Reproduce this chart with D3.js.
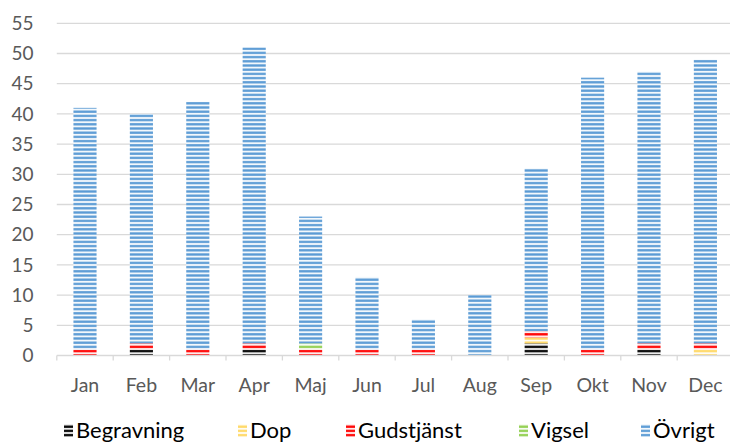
<!DOCTYPE html>
<html>
<head>
<meta charset="utf-8">
<script src="https://cdn.jsdelivr.net/npm/d3@7"></script>
<style>
  html, body { margin: 0; padding: 0; background: #fff; }
  svg { display: block; font-family: Lato, "Open Sans", sans-serif; }
</style>
</head>
<body>
<svg id="chart" width="730" height="443"></svg>
<script>
// Activities per month, stacked by type
const months = ["Jan", "Feb", "Mar", "Apr", "Maj", "Jun", "Jul", "Aug", "Sep", "Okt", "Nov", "Dec"];
const seriesNames = ["Begravning", "Dop", "Gudstjänst", "Vigsel", "Övrigt"];
const begravning = [0, 1, 0, 1, 0, 0, 0, 0, 2, 0, 1, 0];
const dop        = [0, 0, 0, 0, 0, 0, 0, 0, 1, 0, 0, 1];
const gudstjanst = [1, 1, 1, 1, 1, 1, 1, 0, 1, 1, 1, 1];
const vigsel     = [0, 0, 0, 0, 1, 0, 0, 0, 0, 0, 0, 0];
const ovrigt     = [40, 38, 41, 49, 21, 12, 5, 10, 27, 45, 45, 47];
const yTicks = [0, 5, 10, 15, 20, 25, 30, 35, 40, 45, 50, 55];

const seriesColors = ["#000000", "#ffd966", "#ff0000", "#92d050", "#5b9bd5"];
const seriesValues = [begravning, dop, gudstjanst, vigsel, ovrigt];

const rows = months.map((m, i) => {
  const r = { month: m };
  seriesNames.forEach((s, k) => { r[s] = seriesValues[k][i]; });
  return r;
});

const svg = d3.select("#chart");
const plotLeft = 56.8, plotRight = 733.6, plotTop = 23.3, plotBottom = 355.5;

const x = d3.scaleBand().domain(months).range([plotLeft, plotRight])
  .paddingInner(0.59).paddingOuter(0.295);
const y = d3.scaleLinear().domain([0, 55]).range([plotBottom, plotTop]);
const step = x.step();

// Striped fills, one pattern per series
const defs = svg.append("defs");
seriesNames.forEach((s, k) => {
  const p = defs.append("pattern")
    .attr("id", "pat" + k)
    .attr("patternUnits", "userSpaceOnUse")
    .attr("width", 8).attr("height", 4.2)
    .attr("y", 0.4);
  p.append("rect").attr("width", 8).attr("height", 4.2).attr("fill", "#fff");
  p.append("rect").attr("y", 0.6).attr("width", 8).attr("height", 3.0)
    .attr("fill", seriesColors[k]).attr("opacity", 0.25);
  p.append("rect").attr("y", 1.0).attr("width", 8).attr("height", 2.2)
    .attr("fill", seriesColors[k]);
});

// Horizontal gridlines
svg.append("g").selectAll("line").data(yTicks.filter(t => t > 0)).join("line")
  .attr("x1", plotLeft).attr("x2", 730)
  .attr("y1", d => y(d)).attr("y2", d => y(d))
  .attr("stroke", "#d9d9d9").attr("stroke-width", 1.3);

// Y axis labels
svg.append("g").selectAll("text").data(yTicks).join("text")
  .attr("x", 33.5).attr("y", d => y(d))
  .attr("dy", "0.35em")
  .attr("text-anchor", "end")
  .attr("fill", "#595959")
  .attr("font-size", 19)
  .text(d => d);

// Stacked bars
const stack = d3.stack().keys(seriesNames);
const layers = stack(rows);
svg.append("g").selectAll("g").data(layers).join("g")
  .attr("fill", (d, k) => `url(#pat${k})`)
  .selectAll("rect").data(d => d.filter(v => v[1] > v[0])).join("rect")
  .attr("x", d => x(d.data.month))
  .attr("width", x.bandwidth())
  .attr("y", d => y(d[1]))
  .attr("height", d => y(d[0]) - y(d[1]));

// Category axis line and tick marks between categories
svg.append("line")
  .attr("x1", plotLeft).attr("x2", 730)
  .attr("y1", plotBottom).attr("y2", plotBottom)
  .attr("stroke", "#d9d9d9").attr("stroke-width", 1.3);
svg.append("g").selectAll("line").data(d3.range(months.length + 1)).join("line")
  .attr("x1", i => plotLeft + i * step).attr("x2", i => plotLeft + i * step)
  .attr("y1", plotBottom).attr("y2", plotBottom + 5)
  .attr("stroke", "#d9d9d9").attr("stroke-width", 1.3);

// Month labels
svg.append("g").selectAll("text").data(months).join("text")
  .attr("x", d => x(d) + x.bandwidth() / 2)
  .attr("y", 385)
  .attr("dy", "0.35em")
  .attr("text-anchor", "middle")
  .attr("fill", "#595959")
  .attr("font-size", 19.5)
  .text(d => d);

// Legend
const legendX = [64, 238, 346, 519, 641];
const legend = svg.append("g").selectAll("g").data(seriesNames).join("g")
  .attr("transform", (d, k) => `translate(${legendX[k]},0)`);
legend.append("rect")
  .attr("x", 0).attr("y", 424).attr("width", 9).attr("height", 13)
  .attr("fill", (d, k) => `url(#pat${k})`);
legend.append("text")
  .attr("x", 12).attr("y", 430.5)
  .attr("dy", "0.35em")
  .attr("fill", "#000")
  .attr("font-size", 22)
  .text(d => d);
</script>
</body>
</html>
